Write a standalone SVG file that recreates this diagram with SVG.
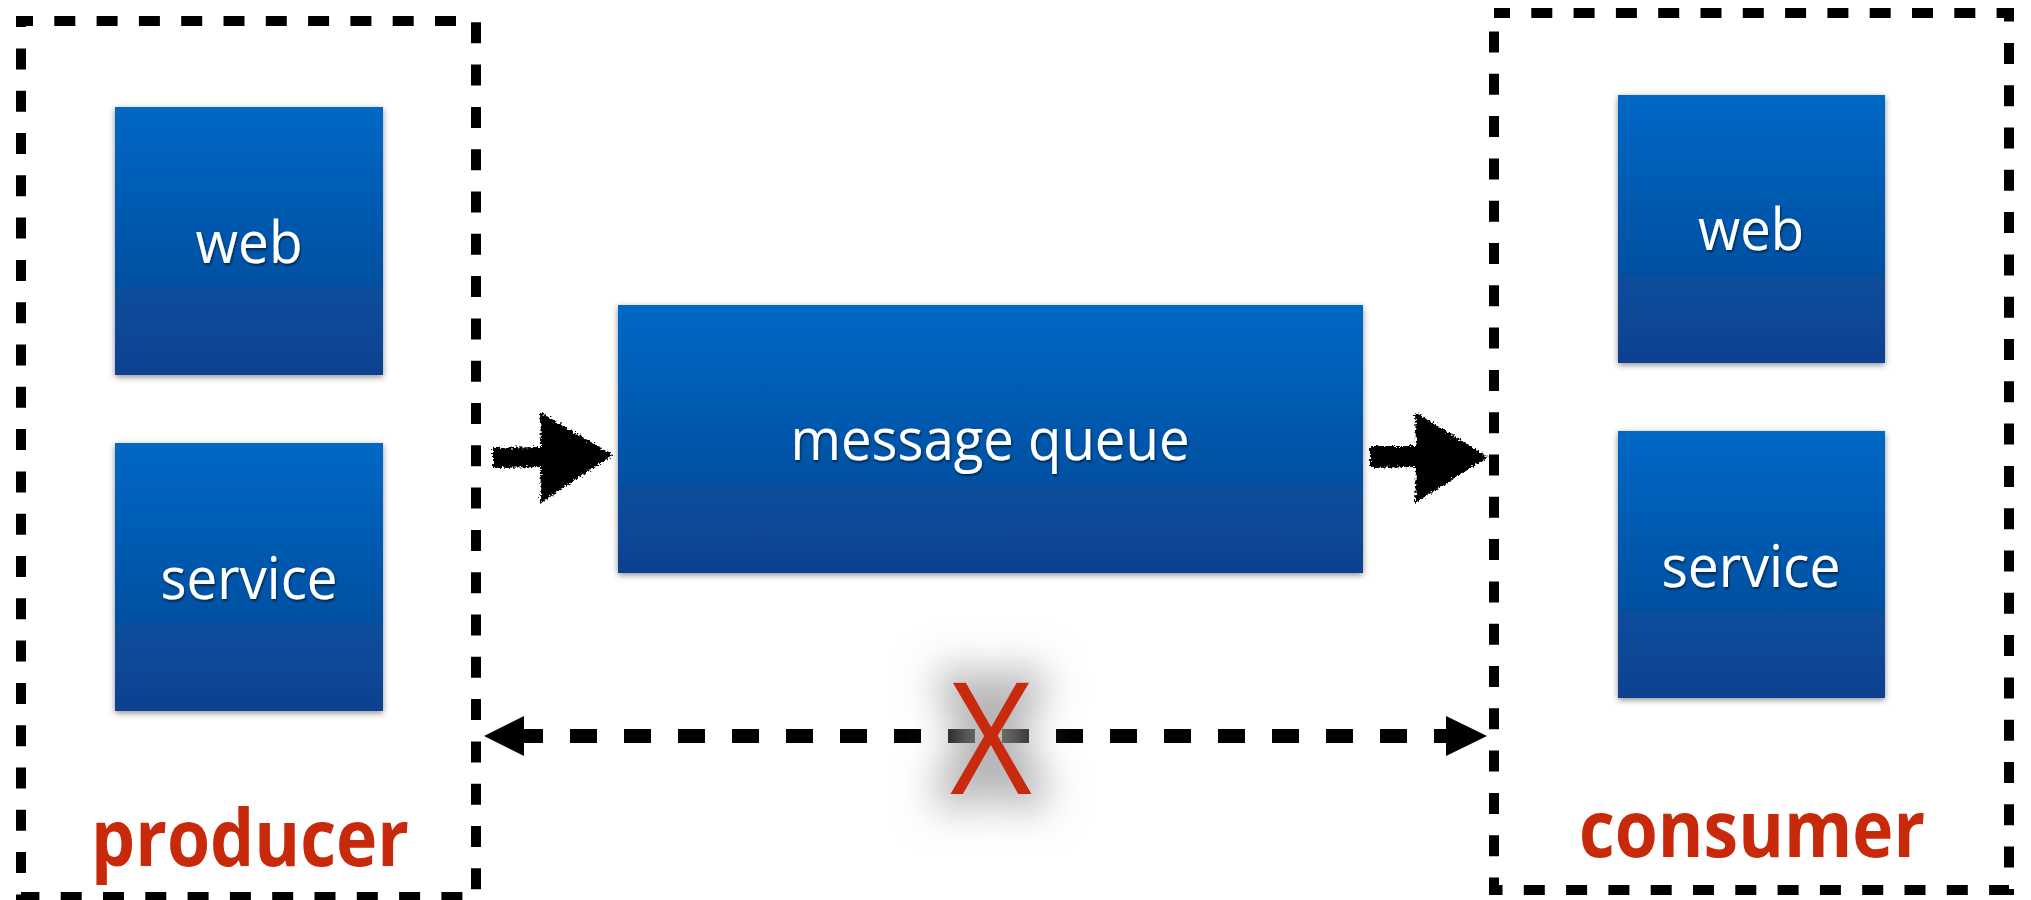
<svg xmlns="http://www.w3.org/2000/svg" width="2031" height="900" viewBox="0 0 2031 900">
  <defs>
    <linearGradient id="blueGrad" x1="0" y1="0" x2="0" y2="1">
      <stop offset="0" stop-color="#0068C5"/>
      <stop offset="0.67" stop-color="#0050A1"/>
      <stop offset="0.675" stop-color="#0E4E9D"/>
      <stop offset="1" stop-color="#0C4190"/>
    </linearGradient>
    <filter id="boxShadow" x="-10%" y="-10%" width="120%" height="125%">
      <feDropShadow dx="0" dy="2" stdDeviation="3" flood-color="#000" flood-opacity="0.45"/>
    </filter>
    <filter id="textShadow" x="-10%" y="-20%" width="120%" height="150%">
      <feDropShadow dx="1" dy="2" stdDeviation="1.2" flood-color="#000" flood-opacity="0.55"/>
    </filter>
    <filter id="glow" x="-120%" y="-60%" width="340%" height="220%">
      <feMorphology in="SourceAlpha" operator="dilate" radius="14" result="d"/>
      <feGaussianBlur in="d" stdDeviation="20" result="b"/>
      <feFlood flood-color="#9a9a9a" flood-opacity="0.75"/>
      <feComposite in2="b" operator="in" result="g"/>
      <feMerge>
        <feMergeNode in="g"/>
        <feMergeNode in="SourceGraphic"/>
      </feMerge>
    </filter>
    <filter id="rough" x="-10%" y="-10%" width="120%" height="120%">
      <feTurbulence type="fractalNoise" baseFrequency="0.45" numOctaves="2" seed="3" result="n"/>
      <feDisplacementMap in="SourceGraphic" in2="n" scale="7" xChannelSelector="R" yChannelSelector="G"/>
    </filter>
    <style>
      .frame { fill: none; stroke: #000; stroke-width: 10; stroke-dasharray: 21 21.3; }
      .box { fill: url(#blueGrad); filter: url(#boxShadow); }
      .lbl { font-family: "Open Sans", "Noto Sans", sans-serif; font-size: 58px; fill: #fff; text-anchor: middle; filter: url(#textShadow); }
      .role { font-family: "Open Sans", "Noto Sans", sans-serif; font-weight: bold; font-size: 79px; fill: #C8290B; text-anchor: middle; }
      .dash { stroke: #000; stroke-width: 14; stroke-dasharray: 27 27; fill: none; }
      .head { fill: #000; }
      .sketch { fill: #000; filter: url(#rough); }
    </style>
  </defs>
  <rect width="2031" height="900" fill="#fff"/>

  <g id="producer">
    <rect class="frame" x="21" y="21" width="455" height="876" stroke-dashoffset="9"/>
    <text class="role" x="250" y="866" textLength="318" lengthAdjust="spacingAndGlyphs">producer</text>
  </g>

  <g id="consumer">
    <rect class="frame" x="1494" y="13" width="515" height="877" stroke-dashoffset="5"/>
    <text class="role" x="1752" y="857" textLength="346" lengthAdjust="spacingAndGlyphs">consumer</text>
  </g>

  <g id="producer-web">
    <rect class="box" x="115" y="107" width="268" height="268"/>
    <text class="lbl" x="249" y="263" textLength="107" lengthAdjust="spacingAndGlyphs">web</text>
  </g>
  <g id="producer-service">
    <rect class="box" x="115" y="443" width="268" height="268"/>
    <text class="lbl" x="249" y="599" textLength="177" lengthAdjust="spacingAndGlyphs">service</text>
  </g>

  <g id="message-queue">
    <rect class="box" x="618" y="305" width="745" height="268"/>
    <text class="lbl" x="990" y="460" textLength="399" lengthAdjust="spacingAndGlyphs">message queue</text>
  </g>

  <g id="consumer-web">
    <rect class="box" x="1618" y="95" width="267" height="268"/>
    <text class="lbl" x="1751" y="250" textLength="106" lengthAdjust="spacingAndGlyphs">web</text>
  </g>
  <g id="consumer-service">
    <rect class="box" x="1618" y="431" width="267" height="267"/>
    <text class="lbl" x="1751" y="587" textLength="179" lengthAdjust="spacingAndGlyphs">service</text>
  </g>

  <g id="connectors">
    <polygon class="sketch" points="493,448 541,447 540,412 613,455 540,503 541,467 493,468"/>
    <polygon class="sketch" points="1370,446 1416,446 1415,412 1488,457 1415,503 1416,467 1370,468"/>
    <line class="dash" x1="520" y1="736" x2="1450" y2="736" stroke-dashoffset="4"/>
    <polygon class="head" points="484,736 524,716 524,756"/>
    <polygon class="head" points="1487,736 1446,716 1446,756"/>
  </g>

  <g id="blocked-mark">
    <text x="991" y="794" filter="url(#glow)" font-family="Open Sans, Noto Sans, sans-serif" font-size="155" fill="#C8290B" text-anchor="middle" textLength="82" lengthAdjust="spacingAndGlyphs">X</text>
  </g>
</svg>
